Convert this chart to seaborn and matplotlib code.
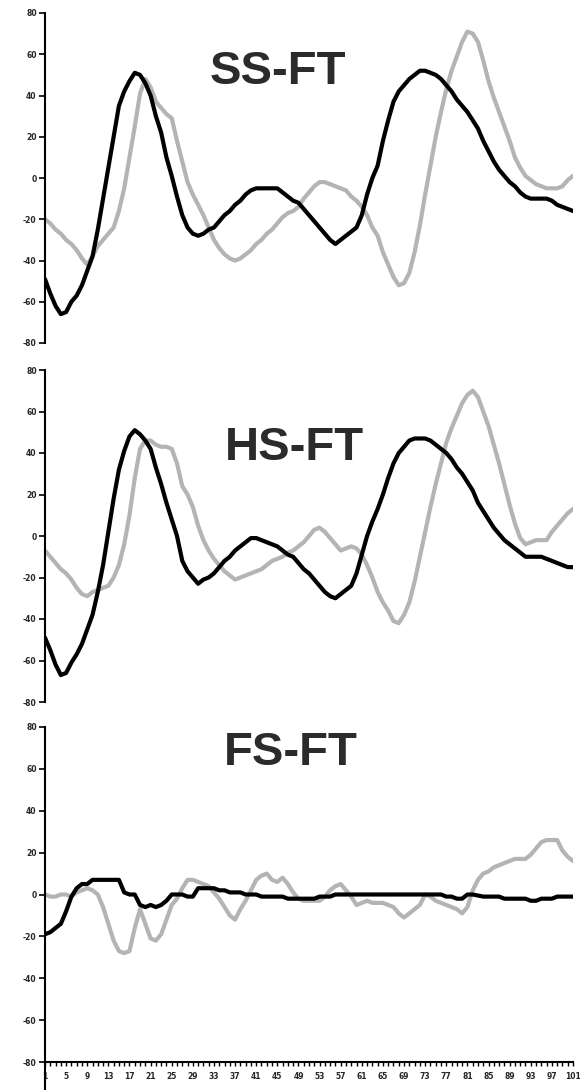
import numpy as np
import pandas as pd
import matplotlib
matplotlib.use("Agg")
import matplotlib.pyplot as plt
import seaborn as sns

# Percent of gait cycle (1..101)
frames = list(range(1, 102))

# SS-FT
ss_black = [-49, -56, -62, -66, -65, -60, -57, -52, -45, -38,
            -25, -10, 5, 20, 35, 42, 47, 51, 50, 46,
            40, 30, 22, 10, 1, -9, -18, -24, -27, -28,
            -27, -25, -24, -21, -18, -16, -13, -11, -8, -6,
            -5, -5, -5, -5, -5, -7, -9, -11, -12, -15,
            -18, -21, -24, -27, -30, -32, -30, -28, -26, -24,
            -18, -8, 0, 6, 18, 28, 37, 42, 45, 48,
            50, 52, 52, 51, 50, 48, 45, 42, 38, 35,
            32, 28, 24, 18, 13, 8, 4, 1, -2, -4,
            -7, -9, -10, -10, -10, -10, -11, -13, -14, -15,
            -16]
ss_gray = [-20, -22, -25, -27, -30, -32, -35, -39, -42, -38,
           -33, -30, -27, -24, -16, -5, 10, 25, 41, 48,
           44, 37, 34, 31, 29, 18, 8, -2, -8, -13,
           -18, -24, -30, -34, -37, -39, -40, -39, -37, -35,
           -32, -30, -27, -25, -22, -19, -17, -16, -14, -10,
           -7, -4, -2, -2, -3, -4, -5, -6, -9, -11,
           -14, -18, -24, -28, -36, -42, -48, -52, -51, -46,
           -36, -23, -8, 6, 20, 32, 43, 52, 59, 66,
           71, 70, 66, 57, 47, 39, 32, 25, 18, 10,
           5, 1, -1, -3, -4, -5, -5, -5, -4, -1,
           1]

# HS-FT
hs_black = [-49, -55, -62, -67, -66, -61, -57, -52, -45, -38,
            -27, -14, 2, 18, 32, 41, 48, 51, 49, 46,
            42, 33, 25, 16, 8, 0, -12, -17, -20, -23,
            -21, -20, -18, -15, -12, -10, -7, -5, -3, -1,
            -1, -2, -3, -4, -5, -7, -9, -10, -13, -16,
            -18, -21, -24, -27, -29, -30, -28, -26, -24, -18,
            -9, 0, 7, 13, 20, 28, 35, 40, 43, 46,
            47, 47, 47, 46, 44, 42, 40, 37, 33, 30,
            26, 22, 16, 12, 8, 4, 1, -2, -4, -6,
            -8, -10, -10, -10, -10, -11, -12, -13, -14, -15,
            -15]
hs_gray = [-7, -10, -13, -16, -18, -21, -25, -28, -29, -27,
           -26, -25, -24, -20, -14, -4, 10, 28, 42, 46,
           46, 44, 43, 43, 42, 35, 24, 20, 14, 5,
           -2, -7, -11, -14, -17, -19, -21, -20, -19, -18,
           -17, -16, -14, -12, -11, -10, -8, -7, -5, -3,
           0, 3, 4, 2, -1, -4, -7, -6, -5, -6,
           -9, -14, -20, -27, -32, -36, -41, -42, -38, -32,
           -22, -10, 2, 14, 25, 35, 45, 52, 58, 64,
           68, 70, 67, 60, 53, 44, 35, 25, 15, 6,
           -1, -4, -3, -2, -2, -2, 2, 5, 8, 11,
           13]

# FS-FT
fs_black = [-19, -18, -16, -14, -8, -1, 3, 5, 5, 7,
            7, 7, 7, 7, 7, 1, 0, 0, -5, -6,
            -5, -6, -5, -3, 0, 0, 0, -1, -1, 3,
            3, 3, 3, 2, 2, 1, 1, 1, 0, 0,
            0, -1, -1, -1, -1, -1, -2, -2, -2, -2,
            -2, -2, -1, -1, -1, 0, 0, 0, 0, 0,
            0, 0, 0, 0, 0, 0, 0, 0, 0, 0,
            0, 0, 0, 0, 0, 0, -1, -1, -2, -2,
            0, 0, -0.5, -1, -1, -1, -1, -2, -2, -2,
            -2, -2, -3, -3, -2, -2, -2, -1, -1, -1,
            -1]
fs_gray = [0, -1, -1, 0, 0, -1, 1, 2, 3, 2,
           0, -6, -14, -22, -27, -28, -27, -16, -7, -14,
           -21, -22, -19, -12, -5, -2, 3, 7, 7, 6,
           5, 4, 1, -2, -6, -10, -12, -7, -3, 2,
           7, 9, 10, 7, 6, 8, 5, 1, -2, -3,
           -3, -3, -3, -1, 2, 4, 5, 2, -1, -5,
           -4, -3, -4, -4, -4, -5, -6, -9, -11, -9,
           -7, -5, 0, -1, -3, -4, -5, -6, -7, -9,
           -6, 2, 7, 10, 11, 13, 14, 15, 16, 17,
           17, 17, 19, 22, 25, 26, 26, 26, 21, 18,
           16]

titles = ["SS-FT", "HS-FT", "FS-FT"]
panels = [(ss_black, ss_gray), (hs_black, hs_gray), (fs_black, fs_gray)]
yticks = [-80, -60, -40, -20, 0, 20, 40, 60, 80]

sns.set_style("ticks")
plt.rcParams["font.family"] = ["DejaVu Sans"]

W, H = 580, 1090
fig = plt.figure(figsize=(W / 100, H / 100), dpi=100)

# axes boxes in pixels: (left, top, right, bottom)
boxes = [(45, 13, 573, 343), (45, 370, 573, 702), (45, 727, 573, 1062)]
title_pos = [(278, 72), (294, 448), (291, 753)]

palette = {"gray": "#b4b4b4", "black": "#000000"}

for k, ((blk, gry), title, box) in enumerate(zip(panels, titles, boxes)):
    l, t, r, b = box
    ax = fig.add_axes([l / W, 1 - b / H, (r - l) / W, (b - t) / H])
    df = pd.DataFrame({
        "frame": frames * 2,
        "value": list(gry) + list(blk),
        "series": ["gray"] * len(frames) + ["black"] * len(frames),
    })
    sns.lineplot(data=df, x="frame", y="value", hue="series",
                 hue_order=["gray", "black"], palette=palette,
                 linewidth=3.0, legend=False, ax=ax)
    ax.set_xlim(1, 101)
    ax.set_ylim(-80, 80)
    ax.set_xlabel("")
    ax.set_ylabel("")
    ax.set_yticks(yticks)
    ax.set_yticklabels([str(v) for v in yticks], fontsize=5.5,
                       fontweight="bold")
    ax.tick_params(axis="y", length=4, width=1.2, pad=2, color="black")
    ax.spines["left"].set_linewidth(1.5)
    ax.spines["left"].set_color("black")
    ax.spines["top"].set_visible(False)
    ax.spines["right"].set_visible(False)
    if k < 2:
        ax.spines["bottom"].set_visible(False)
        ax.set_xticks([])
    else:
        ax.spines["bottom"].set_linewidth(1.5)
        ax.spines["bottom"].set_color("black")
        ax.set_xticks(frames)
        ax.set_xticklabels([str(f) if (f - 1) % 4 == 0 else "" for f in frames],
                           fontsize=5.5, fontweight="bold")
        ax.tick_params(axis="x", length=3, width=1.0, pad=4, color="black")
        # axis line continues below the category axis
        ax.plot([0, 0], [0, -0.085], transform=ax.transAxes, color="black",
                linewidth=1.5, clip_on=False)
    tx, ty = title_pos[k]
    fig.text(tx / W, 1 - ty / H, title, ha="center", va="center",
             fontsize=34, fontweight="bold", color="#2b2b2b",
             family=["Liberation Sans", "DejaVu Sans"])

fig.savefig("out.png", dpi=100, facecolor="white")
